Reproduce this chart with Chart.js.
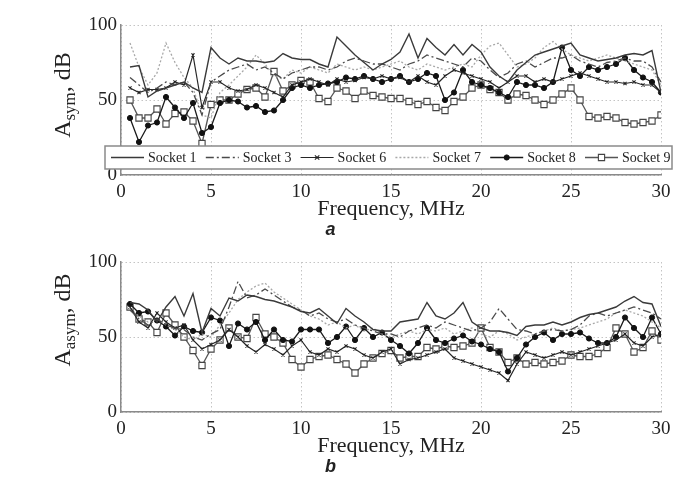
<!DOCTYPE html>
<html>
<head>
<meta charset="utf-8">
<script src="https://cdn.jsdelivr.net/npm/chart.js@4.4.1/dist/chart.umd.min.js"></script>
<style>
  html, body { margin: 0; padding: 0; background: #fff; }
  body { width: 682px; height: 483px; position: relative; overflow: hidden; }
  .panel { position: absolute; left: 0; width: 682px; height: 244px; }
  #panelA { top: 0; }
  #panelB { top: 237px; }
</style>
</head>
<body>
<div class="panel" id="panelA"><canvas id="chartA"></canvas></div>
<div class="panel" id="panelB"><canvas id="chartB"></canvas></div>
<script>
// frequency points, MHz
const freq = [0.5, 1, 1.5, 2, 2.5, 3, 3.5, 4, 4.5, 5,
  5.5, 6, 6.5, 7, 7.5, 8, 8.5, 9, 9.5, 10,
  10.5, 11, 11.5, 12, 12.5, 13, 13.5, 14, 14.5, 15,
  15.5, 16, 16.5, 17, 17.5, 18, 18.5, 19, 19.5, 20,
  20.5, 21, 21.5, 22, 22.5, 23, 23.5, 24, 24.5, 25,
  25.5, 26, 26.5, 27, 27.5, 28, 28.5, 29, 29.5, 30];
const xTicks = [0, 5, 10, 15, 20, 25, 30];
const yTicks = [0, 50, 100];
const socketNames = ['Socket 1', 'Socket 3', 'Socket 6', 'Socket 7', 'Socket 8', 'Socket 9'];

// panel a: A_sym, dB
const sym1 = [72, 73, 52, 56, 58, 60, 62, 58, 55, 85,
  78, 74, 78, 76, 76, 75, 76, 81, 78, 77,
  77, 74, 72, 92, 86, 80, 75, 70, 74, 77,
  82, 94, 78, 91, 85, 80, 87, 80, 87, 82,
  72, 66, 62, 70, 75, 80, 82, 84, 86, 88,
  80, 78, 76, 77, 78, 80, 81, 80, 83, 55];
const sym3 = [65, 60, 55, 58, 62, 60, 62, 55, 40, 62,
  66, 70, 72, 74, 70, 72, 68, 64, 68, 70,
  72, 72, 70, 72, 76, 78, 76, 74, 74, 72,
  70, 74, 76, 80, 78, 76, 74, 72, 78, 76,
  70, 65, 68, 74, 76, 72, 75, 78, 78, 80,
  76, 74, 72, 75, 76, 78, 76, 76, 72, 62];
const sym6 = [58, 55, 57, 57, 58, 62, 60, 80, 45, 62,
  62, 58, 56, 57, 60, 58, 55, 52, 60, 62,
  64, 62, 60, 64, 62, 63, 65, 64, 66, 64,
  65, 62, 66, 62, 60, 66, 70, 68, 66, 64,
  62, 58, 62, 66, 66, 62, 64, 62, 64, 66,
  68, 66, 64, 62, 62, 61, 62, 60, 60, 55];
const sym7 = [88, 72, 60, 68, 88, 75, 65, 58, 40, 38,
  55, 60, 66, 72, 80, 74, 66, 64, 70, 68,
  72, 70, 68, 74, 72, 70, 72, 70, 72, 74,
  76, 72, 70, 74, 72, 70, 72, 74, 72, 80,
  86, 88, 80, 72, 74, 78, 85, 89, 84, 80,
  78, 76, 78, 80, 78, 76, 74, 72, 70, 60];
const sym8 = [38, 22, 33, 35, 52, 45, 38, 48, 28, 32,
  48, 50, 49, 45, 46, 42, 43, 50, 58, 60,
  58, 60, 61, 62, 65, 64, 66, 64, 62, 64,
  66, 62, 64, 68, 66, 50, 55, 70, 62, 60,
  58, 55, 52, 62, 60, 60, 58, 62, 85, 70,
  66, 72, 70, 72, 74, 78, 70, 65, 62, 55];
const sym9 = [50, 38, 38, 44, 34, 41, 42, 36, 21, 47,
  50, 50, 54, 57, 58, 52, 69, 56, 60, 63,
  62, 51, 49, 58, 56, 51, 56, 53, 52, 51,
  51, 49, 47, 49, 45, 43, 49, 52, 58, 60,
  57, 55, 50, 54, 53, 50, 47, 50, 54, 58,
  50, 39, 38, 39, 38, 35, 34, 35, 36, 40];

// panel b: A_asym, dB
const asym1 = [73, 72, 68, 60, 70, 77, 64, 79, 53, 69,
  64, 76, 74, 78, 77, 75, 74, 72, 70, 67,
  66, 69, 64, 59, 69, 64, 60, 55, 54, 54,
  60, 61, 62, 73, 64, 62, 66, 73, 60, 56,
  54, 54, 53, 51, 57, 58, 58, 60, 58, 60,
  63, 65, 66, 68, 70, 74, 77, 73, 72, 57];
const asym3 = [68, 62, 58, 62, 58, 56, 55, 50, 48, 52,
  55, 70, 87, 76, 78, 82, 78, 74, 70, 68,
  64, 66, 62, 60, 62, 58, 56, 54, 52, 52,
  50, 54, 56, 58, 56, 60, 58, 56, 54, 56,
  60, 69, 62, 55, 54, 52, 54, 55, 54, 55,
  58, 64, 66, 64, 66, 68, 70, 68, 66, 62];
const asym6 = [70, 60, 56, 66, 60, 56, 58, 48, 42, 45,
  48, 55, 50, 44, 40, 45, 42, 38, 44, 48,
  40, 38, 42, 40, 44, 42, 38, 36, 40, 42,
  32, 35, 36, 38, 40, 42, 36, 34, 32, 30,
  28, 26, 21, 32, 40, 38, 36, 38, 40, 38,
  40, 42, 44, 46, 48, 52, 46, 44, 50, 52];
const asym7 = [68, 64, 60, 62, 58, 55, 50, 48, 52, 50,
  58, 66, 75, 80, 84, 86, 80, 76, 72, 68,
  64, 62, 58, 60, 56, 58, 54, 56, 52, 50,
  52, 54, 52, 55, 54, 56, 52, 54, 56, 52,
  50, 54, 52, 48, 50, 52, 54, 56, 54, 55,
  56, 58, 60, 62, 66, 68, 66, 64, 60, 56];
const asym8 = [72, 66, 67, 61, 57, 51, 57, 54, 53, 63,
  61, 44, 59, 55, 60, 48, 55, 48, 47, 55,
  55, 55, 46, 50, 57, 48, 56, 50, 53, 48,
  44, 39, 46, 56, 48, 46, 49, 51, 47, 45,
  42, 40, 27, 36, 45, 50, 53, 48, 52, 52,
  53, 49, 46, 46, 50, 63, 56, 50, 63, 52];
const asym9 = [70, 62, 60, 53, 66, 58, 50, 41, 31, 42,
  48, 56, 50, 49, 63, 52, 50, 46, 35, 30,
  35, 37, 38, 35, 32, 26, 32, 36, 39, 41,
  36, 37, 37, 43, 42, 44, 43, 44, 46, 56,
  43, 40, 33, 36, 32, 33, 32, 33, 34, 38,
  37, 37, 39, 43, 56, 52, 40, 43, 54, 48];

const serif = '"Liberation Serif", "Times New Roman", serif';

// line look for each socket, same order as socketNames
const socketStyles = [
  { borderColor: '#3a3a3a', borderWidth: 1.4, pointRadius: 0 },
  { borderColor: '#4a4a4a', borderWidth: 1.3, borderDash: [8, 3, 2, 3], pointRadius: 0 },
  { borderColor: '#262626', borderWidth: 1.2, pointStyle: 'crossRot', pointRadius: 2.2,
    pointBorderColor: '#222', pointBorderWidth: 1.1 },
  { borderColor: '#a8a8a8', borderWidth: 1.3, borderDash: [2, 2], pointRadius: 0 },
  { borderColor: '#1a1a1a', borderWidth: 1.3, pointStyle: 'circle', pointRadius: 2.6,
    pointBackgroundColor: '#111', pointBorderColor: '#111', pointBorderWidth: 1 },
  { borderColor: '#555', borderWidth: 1.3, pointStyle: 'rect', pointRadius: 4.4,
    pointBackgroundColor: '#fff', pointBorderColor: '#444', pointBorderWidth: 1.1 }
];

function makeDatasets(seriesList) {
  return seriesList.map((vals, i) => Object.assign({
    label: socketNames[i],
    data: vals.map((v, k) => ({ x: freq[k], y: v })),
    fill: false,
    tension: 0,
    pointHoverRadius: 0
  }, socketStyles[i]));
}

function drawMarker(ctx, st, x, y) {
  if (!st.pointRadius) return;
  const r = st.pointRadius;
  ctx.save();
  ctx.setLineDash([]);
  ctx.lineWidth = st.pointBorderWidth || 1;
  ctx.strokeStyle = st.pointBorderColor || st.borderColor;
  ctx.fillStyle = st.pointBackgroundColor || '#fff';
  ctx.beginPath();
  if (st.pointStyle === 'circle') {
    ctx.arc(x, y, r, 0, Math.PI * 2);
    ctx.fill(); ctx.stroke();
  } else if (st.pointStyle === 'rect') {
    const s = r * Math.SQRT1_2;
    ctx.rect(x - s, y - s, 2 * s, 2 * s);
    ctx.fill(); ctx.stroke();
  } else {
    ctx.moveTo(x - r, y - r); ctx.lineTo(x + r, y + r);
    ctx.moveTo(x - r, y + r); ctx.lineTo(x + r, y - r);
    ctx.stroke();
  }
  ctx.restore();
}

// boxed legend sitting inside the plot of panel a
const boxLegend = {
  id: 'boxLegend',
  afterDatasetsDraw(chart) {
    const ctx = chart.ctx;
    const top = 146, bottom = 169, left = 105, right = 672;
    const midY = (top + bottom) / 2;
    ctx.save();
    ctx.fillStyle = '#fff';
    ctx.fillRect(left, top, right - left, bottom - top);
    ctx.strokeStyle = '#8a8a8a';
    ctx.lineWidth = 1.5;
    ctx.strokeRect(left, top, right - left, bottom - top);
    chart.data.datasets.forEach((ds, i) => {
      const st = socketStyles[i];
      const x0 = 111 + i * 94.8;
      ctx.save();
      ctx.strokeStyle = st.borderColor;
      ctx.lineWidth = st.borderWidth;
      ctx.setLineDash(st.borderDash || []);
      ctx.beginPath();
      ctx.moveTo(x0, midY);
      ctx.lineTo(x0 + 33, midY);
      ctx.stroke();
      ctx.restore();
      drawMarker(ctx, st, x0 + 16.5, midY);
      ctx.fillStyle = '#222';
      ctx.font = '14px ' + serif;
      ctx.textBaseline = 'middle';
      ctx.textAlign = 'left';
      ctx.fillText(ds.label, x0 + 37, midY + 1);
    });
    ctx.restore();
  }
};

// rotated y title with subscript: A_sym, dB
const yTitle = {
  id: 'yTitle',
  afterDraw(chart, args, opts) {
    const { ctx, chartArea } = chart;
    const big = '24px ' + serif, small = '17px ' + serif;
    ctx.save();
    ctx.font = big;
    const wA = ctx.measureText('A').width;
    const wRest = ctx.measureText(', dB').width;
    ctx.font = small;
    const wSub = ctx.measureText(opts.sub).width;
    const total = wA + wSub + wRest;
    ctx.translate(opts.x, chartArea.top + opts.offset);
    ctx.rotate(-Math.PI / 2);
    ctx.fillStyle = '#222';
    ctx.textAlign = 'left';
    ctx.textBaseline = 'alphabetic';
    let x = -total / 2;
    ctx.font = big; ctx.fillText('A', x, 0); x += wA;
    ctx.font = small; ctx.fillText(opts.sub, x, 5); x += wSub;
    ctx.font = big; ctx.fillText(', dB', x, 0);
    ctx.restore();
  }
};

function buildChart(canvasId, seriesList, sub, letter, titleOffset, extraPlugins) {
  return new Chart(document.getElementById(canvasId), {
    type: 'line',
    data: { datasets: makeDatasets(seriesList) },
    options: {
      responsive: true,
      maintainAspectRatio: false,
      animation: false,
      events: [],
      layout: { padding: { left: 0, right: 21, top: 25, bottom: 0 } },
      plugins: {
        legend: { display: false },
        tooltip: { enabled: false },
        title: {
          display: true,
          text: letter,
          position: 'bottom',
          color: '#222',
          font: { family: '"Liberation Sans", Arial, sans-serif', size: 18, style: 'italic', lineHeight: 1 },
          padding: { top: 0, bottom: 5 }
        },
        yTitle: { sub: sub, x: 70, offset: titleOffset }
      },
      scales: {
        x: {
          type: 'linear',
          min: 0,
          max: 30,
          afterBuildTicks: s => { s.ticks = xTicks.map(v => ({ value: v })); },
          afterFit: s => { s.height = 46; },
          ticks: { color: '#222', padding: 6, maxRotation: 0, font: { family: serif, size: 19 } },
          grid: { color: '#c4c4c4', lineWidth: 1, drawTicks: false },
          border: { display: true, color: '#8a8a8a', width: 1.5, dash: [1.5, 2.5] },
          title: {
            display: true,
            text: 'Frequency, MHz',
            color: '#222',
            font: { family: serif, size: 22, lineHeight: 1.1 },
            padding: { top: 0, bottom: 0 }
          }
        },
        y: {
          min: 0,
          max: 100,
          afterBuildTicks: s => { s.ticks = yTicks.map(v => ({ value: v })); },
          afterFit: s => { s.width = 121; },
          ticks: { color: '#222', padding: 4, font: { family: serif, size: 19 } },
          grid: { color: '#c4c4c4', lineWidth: 1, drawTicks: false },
          border: { display: true, color: '#8a8a8a', width: 1.5, dash: [1.5, 2.5] }
        }
      }
    },
    plugins: [yTitle].concat(extraPlugins)
  });
}

buildChart('chartA', [sym1, sym3, sym6, sym7, sym8, sym9], 'sym', 'a', 70, [boxLegend]);
buildChart('chartB', [asym1, asym3, asym6, asym7, asym8, asym9], 'asym', 'b', 58, []);
</script>
</body>
</html>
